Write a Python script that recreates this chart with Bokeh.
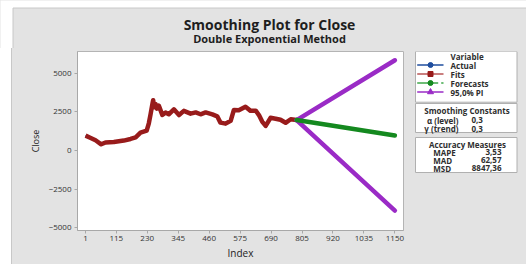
from bokeh.plotting import figure
from bokeh.layouts import column, row
from bokeh.models import Range1d, FixedTicker, Spacer
from bokeh.embed import file_html
from bokeh.resources import INLINE
from bokeh.core.properties import value

# ---------------- data ----------------
index = [1, 20, 38, 59, 75, 106, 143, 168, 187, 205, 228, 236, 242, 248, 252, 256,
         261, 266, 273, 286, 298, 310, 329, 348, 366, 391, 410, 428, 447, 472, 490,
         502, 521, 540, 552, 570, 595, 614, 633, 645, 657, 670, 688, 707, 725, 744,
         763, 785]
actual = [969, 795, 646, 366, 538, 538, 646, 754, 861, 1184, 1292, 1830, 2368, 2950,
          3337, 2750, 3015, 2650, 2907, 2261, 2476, 2325, 2691, 2261, 2584, 2368,
          2476, 2325, 2476, 2325, 2196, 1765, 1722, 1938, 2691, 2584, 2842, 2541,
          2584, 2261, 1830, 1550, 2153, 2045, 1980, 1765, 2045, 1950]
fits = [960, 810, 660, 400, 520, 545, 640, 745, 850, 1150, 1280, 1760, 2300, 2880,
        3250, 2800, 3000, 2700, 2900, 2300, 2450, 2340, 2660, 2290, 2560, 2380,
        2460, 2340, 2460, 2335, 2210, 1800, 1735, 1920, 2620, 2595, 2820, 2560,
        2575, 2290, 1870, 1585, 2110, 2055, 1985, 1790, 2020, 1965]
forecast_index = [785, 1150]
forecast = [1965, 969]
pi_upper = [1965, 5830]
pi_lower = [1965, -3880]

x_ticks = [1, 115, 230, 345, 460, 575, 690, 805, 920, 1035, 1150]
y_ticks = [-5000, -2500, 0, 2500, 5000]

legend_labels = ["Actual", "Fits", "Forecasts", "95,0% PI"]
const_labels = ["\u03b1 (level)", "\u03b3 (trend)"]
const_values = ["0,3", "0,3"]
acc_labels = ["MAPE", "MAD", "MSD"]
acc_values = ["3,53", "62,57", "8847,36"]

# ---------------- styles ----------------
GRAY = "#E3E3E3"
EDGE = "#C8C8C8"
FONT = "Open Sans"
C_ACT = "#1F4E9E"
C_FIT = "#981B1B"
C_FC = "#14891F"
C_PI = "#9A2BC6"

# ---------------- header (page y 0..48) ----------------
head = figure(width=526, height=48, x_range=Range1d(0, 526), y_range=Range1d(48, 0),
              toolbar_location=None, output_backend="svg", min_border=0,
              x_axis_location=None, y_axis_location=None,
              background_fill_color="white", border_fill_color="white",
              outline_line_color=None)
head.grid.visible = False
head.quad(left=[12.5], right=[540], top=[7.5], bottom=[60], fill_color=GRAY,
          line_color=EDGE, line_width=1)
head.text(x=[269], y=[24], text=["Smoothing Plot for Close"], text_font=value(FONT),
          text_font_style="bold", text_font_size="14px", text_align="center",
          text_baseline="middle", text_color="#1E1E1E")
head.text(x=[269], y=[37.5], text=["Double Exponential Method"], text_font=value(FONT),
          text_font_style="bold", text_font_size="11px", text_align="center",
          text_baseline="middle", text_color="#1E1E1E")

# ---------------- main plot (page x 12..408, y 48..264) ----------------
p = figure(width=396, height=216, x_range=Range1d(-29, 1182), y_range=Range1d(-5168, 6395),
           toolbar_location=None, output_backend="svg",
           min_border_left=65, min_border_right=5, min_border_top=3, min_border_bottom=34,
           background_fill_color="white", border_fill_color=GRAY,
           outline_line_color="#B4B4B4")
p.grid.visible = False
p.xaxis.ticker = FixedTicker(ticks=x_ticks)
p.yaxis.ticker = FixedTicker(ticks=y_ticks)
for ax in (p.xaxis[0], p.yaxis[0]):
    ax.axis_line_color = "#A8A8A8"
    ax.major_tick_line_color = "#A8A8A8"
    ax.major_tick_out = 3
    ax.major_tick_in = 0
    ax.minor_tick_line_color = None
    ax.major_label_text_font = FONT
    ax.major_label_text_font_size = "8px"
    ax.major_label_text_color = "#333333"
    ax.axis_label_text_font = FONT
    ax.axis_label_text_font_style = "normal"
    ax.axis_label_text_color = "#222222"
p.xaxis.axis_label = "Index"
p.xaxis.axis_label_text_font_size = "10px"
p.xaxis.major_label_standoff = 2
p.xaxis.axis_label_standoff = 2
p.yaxis.axis_label = "Close"
p.yaxis.axis_label_text_font_size = "9px"
p.yaxis.major_label_standoff = 3
p.yaxis.axis_label_standoff = 4

p.line(index, actual, line_color=C_ACT, line_width=2)
p.line(index, fits, line_color=C_FIT, line_width=4.5, line_join="round")
p.line(forecast_index, pi_upper, line_color=C_PI, line_width=4.5, line_cap="round")
p.line(forecast_index, pi_lower, line_color=C_PI, line_width=4.5, line_cap="round")
p.line(forecast_index, forecast, line_color=C_FC, line_width=4.5, line_cap="round")

# ---------------- side panel (page x 408..526, y 48..264) ----------------
# frame spans page y 51..230 -> side coords (page y - 48) 3..182
side = figure(width=118, height=216, x_range=Range1d(0, 118), y_range=Range1d(182, 3),
              toolbar_location=None, output_backend="svg",
              min_border_left=0, min_border_right=0, min_border_top=3, min_border_bottom=34,
              x_axis_location=None, y_axis_location=None,
              background_fill_color=GRAY, border_fill_color=GRAY, outline_line_color=None)
side.grid.visible = False
side.quad(left=[7, 7, 7], right=[108.5, 108.5, 108.5], top=[3, 55, 89],
          bottom=[53.7, 84, 124], fill_color="white", line_color="#B0B0B0", line_width=1)

txt = dict(text_font=value(FONT), text_font_size="8px", text_font_style="bold",
           text_color="#2E2E2E", text_baseline="middle")
side.text(x=[42], y=[7.5], text=["Variable"], text_align="left", **txt)
rows_y = [16.5, 25.5, 34.5, 43.5]
side.text(x=[42] * 4, y=rows_y, text=legend_labels, text_align="left", **txt)
# legend keys
side.segment(x0=[8.7], y0=[rows_y[0]], x1=[35], y1=[rows_y[0]], line_color=C_ACT, line_width=1.5)
side.scatter([22], [rows_y[0]], marker="circle", size=5, color=C_ACT)
side.segment(x0=[8.7], y0=[rows_y[1]], x1=[35], y1=[rows_y[1]], line_color="#B85555", line_width=1.5)
side.scatter([22], [rows_y[1]], marker="square", size=5, color=C_FIT)
side.segment(x0=[8.7], y0=[rows_y[2]], x1=[35], y1=[rows_y[2]], line_color="#3FA84A",
             line_width=1.5, line_dash="21 3")
side.scatter([22], [rows_y[2]], marker="circle", size=5, color=C_FC)
side.segment(x0=[8.7], y0=[rows_y[3]], x1=[35], y1=[rows_y[3]], line_color=C_PI, line_width=1.5)
side.scatter([22], [rows_y[3]], marker="triangle", size=6, color=C_PI)

side.text(x=[58.5], y=[62], text=["Smoothing Constants"], text_align="center", **txt)
side.text(x=[50, 50], y=[71.5, 80], text=const_labels, text_align="right", **txt)
side.text(x=[63, 63], y=[71.5, 80], text=const_values, text_align="left", **txt)

side.text(x=[59], y=[95.5], text=["Accuracy Measures"], text_align="center", **txt)
side.text(x=[24.7] * 3, y=[103.5, 111.5, 119.5], text=acc_labels, text_align="left", **txt)
side.text(x=[93] * 3, y=[103.5, 111.5, 119.5], text=acc_values, text_align="right", **txt)

left_strip = Spacer(width=12, height=216,
                    styles={"background-color": "white",
                            "box-shadow": "inset -1px 0 0 " + EDGE})
layout = column(head, row(left_strip, p, side), styles={"background-color": GRAY})
open("out.html", "w").write(file_html(layout, INLINE))
